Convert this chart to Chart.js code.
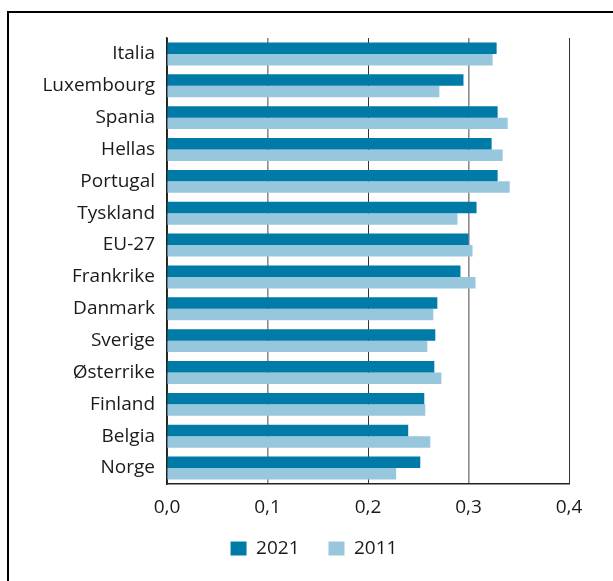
<!DOCTYPE html>
<html>
<head>
<meta charset="utf-8">
<script src="https://cdn.jsdelivr.net/npm/chart.js@4/dist/chart.umd.min.js"></script>
<style>
  html, body { margin: 0; padding: 0; background: #ffffff; }
  #wrap { width: 613px; height: 581px; }
</style>
</head>
<body>
<div id="wrap"><canvas id="c" width="613" height="581"></canvas></div>
<script>
const categories = ['Italia', 'Luxembourg', 'Spania', 'Hellas', 'Portugal', 'Tyskland', 'EU-27',
  'Frankrike', 'Danmark', 'Sverige', 'Østerrike', 'Finland', 'Belgia', 'Norge'];
const values2021 = [0.328, 0.295, 0.329, 0.323, 0.329, 0.308, 0.300,
  0.292, 0.269, 0.267, 0.266, 0.256, 0.240, 0.252];
const values2011 = [0.324, 0.271, 0.339, 0.334, 0.341, 0.289, 0.304,
  0.307, 0.265, 0.259, 0.273, 0.257, 0.262, 0.228];
const seriesLabels = ['2021', '2011'];
const xTickLabels = ['0,0', '0,1', '0,2', '0,3', '0,4'];

const FONT = "'Open Sans', 'Noto Sans', sans-serif";

const framePlugin = {
  id: 'frame',
  afterLayout(chart) {
    const lg = chart.legend;
    if (lg) {
      const h = lg.bottom - lg.top;
      lg.left = 59;
      lg.top = 510;
      lg.bottom = 510 + h;
    }
  },
  beforeDraw(chart) {
    const ctx = chart.ctx;
    ctx.save();
    ctx.fillStyle = '#ffffff';
    ctx.fillRect(0, 0, chart.width, chart.height);
    ctx.fillStyle = '#000000';
    ctx.fillRect(7, 11, chart.width - 7, 2);
    ctx.fillRect(7, 11, 2, chart.height - 11);
    ctx.restore();
  }
};

new Chart(document.getElementById('c'), {
  type: 'bar',
  data: {
    labels: categories,
    datasets: [
      { label: seriesLabels[0], data: values2021, backgroundColor: '#007ba7', borderWidth: 0 },
      { label: seriesLabels[1], data: values2011, backgroundColor: '#96c7dc', borderWidth: 0 }
    ]
  },
  options: {
    indexAxis: 'y',
    responsive: false,
    animation: false,
    devicePixelRatio: 1,
    categoryPercentage: 0.72,
    barPercentage: 1.0,
    layout: { padding: { left: 0, right: 44, top: 38, bottom: 3 } },
    scales: {
      x: {
        min: 0, max: 0.4,
        z: 1,
        ticks: {
          stepSize: 0.1,
          padding: 12,
          color: '#1a1a1a',
          font: { family: FONT, size: 19 },
          callback: (v, i) => xTickLabels[i]
        },
        grid: {
          drawTicks: false,
          color: (c) => (c.index === 1 || c.index === 3) ? '#8c8c8c' : '#333333',
          lineWidth: (c) => (c.index === 1 || c.index === 3) ? 1.6 : 1
        },
        border: { display: true, color: '#222222', width: 1.5 },
        afterFit: (s) => { s.height = 36; }
      },
      y: {
        ticks: {
          padding: 12,
          color: '#1a1a1a',
          font: { family: FONT, size: 19 }
        },
        grid: { display: false, drawTicks: false },
        border: { display: true, color: '#222222', width: 1.5 },
        afterFit: (s) => { s.width = 167; }
      }
    },
    plugins: {
      legend: {
        position: 'bottom',
        labels: {
          boxWidth: 16,
          boxHeight: 14,
          padding: 29,
          color: '#1a1a1a',
          font: { family: FONT, size: 19 }
        }
      },
      tooltip: { enabled: false }
    }
  },
  plugins: [framePlugin]
});
</script>
</body>
</html>
